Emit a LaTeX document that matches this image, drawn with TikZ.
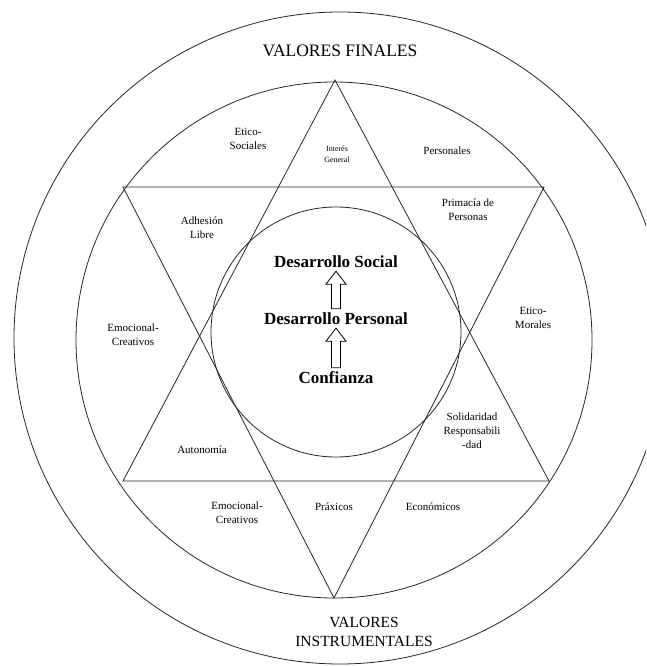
\documentclass[tikz,border=0pt]{standalone}
\usepackage{fontspec}
\setmainfont{Liberation Serif}
\usetikzlibrary{calc}
\begin{document}
\begin{tikzpicture}[x=1pt,y=-1pt,
  ring/.style={draw=black!85, line width=0.8pt},
  lab/.style={align=center, font=\fontsize{11}{14}\selectfont, inner sep=0pt},
  tinylab/.style={align=center, font=\fontsize{8}{11}\selectfont, inner sep=0pt},
  core/.style={font=\fontsize{17}{20}\selectfont\bfseries, inner sep=1pt},
  heading/.style={align=center, inner sep=0pt},
  hollow up/.style={to path={let \p1=(\tikztostart), \p2=(\tikztotarget) in
     (\x1-4.5pt,\y1) -- (\x1-4.5pt,\y2-13pt) -- (\x1-10pt,\y2-13pt) -- (\x1,\y2)
     -- (\x1+10pt,\y2-13pt) -- (\x1+4.5pt,\y2-13pt) -- (\x1+4.5pt,\y1) -- cycle}}
]
\useasboundingbox (0,0) rectangle (646,666);
\clip (0,0) rectangle (646,666);

% three rings
\draw[ring] (340,338) circle[radius=326];
\draw[ring] (334,340) circle[radius=258];
\draw[ring] (336,332) circle[radius=125];

% six-pointed star
\draw[ring] (335,80) -- (549,481) -- (123,481) -- cycle;
\draw[ring] (123,187) -- (544,187) -- (334,598) -- cycle;

% outer band
\node[heading, font=\fontsize{17.5}{20}\selectfont] (fin) at (340,51) {VALORES FINALES};
\node[heading, font=\fontsize{15.5}{19}\selectfont] (ins) at (364,632) {VALORES\\INSTRUMENTALES};

% middle band
\node[lab] (es) at (248,139) {Etico-\\Sociales};
\node[tinylab] (ig) at (337,154) {Interés\\General};
\node[lab] (pe) at (447,151) {Personales};
\node[lab] (ec1) at (133,335) {Emocional-\\Creativos};
\node[lab] (em) at (533,318) {Etico-\\Morales};
\node[lab] (ec2) at (237,513) {Emocional-\\Creativos};
\node[lab] (px) at (334,507) {Práxicos};
\node[lab] (eco) at (433,507) {Económicos};

% star points inside
\node[lab] (pp) at (468,210) {Primacía de\\Personas};
\node[lab] (al) at (202,228) {Adhesión\\Libre};
\node[lab] (au) at (202,450) {Autonomía};
\node[lab] (sr) at (472,431) {Solidaridad\\Responsabili\\-dad};

% centre
\node[core] (ds) at (336,262) {Desarrollo Social};
\node[core] (dp) at (336,319) {Desarrollo Personal};
\node[core] (cf) at (336,378) {Confianza};

\draw[line width=0.8pt] ([yshift=3pt]dp.north) to[hollow up] ([yshift=-2pt]ds.south);
\draw[line width=0.8pt] ([yshift=3pt]cf.north) to[hollow up] ([yshift=-2pt]dp.south);
\end{tikzpicture}
\end{document}
